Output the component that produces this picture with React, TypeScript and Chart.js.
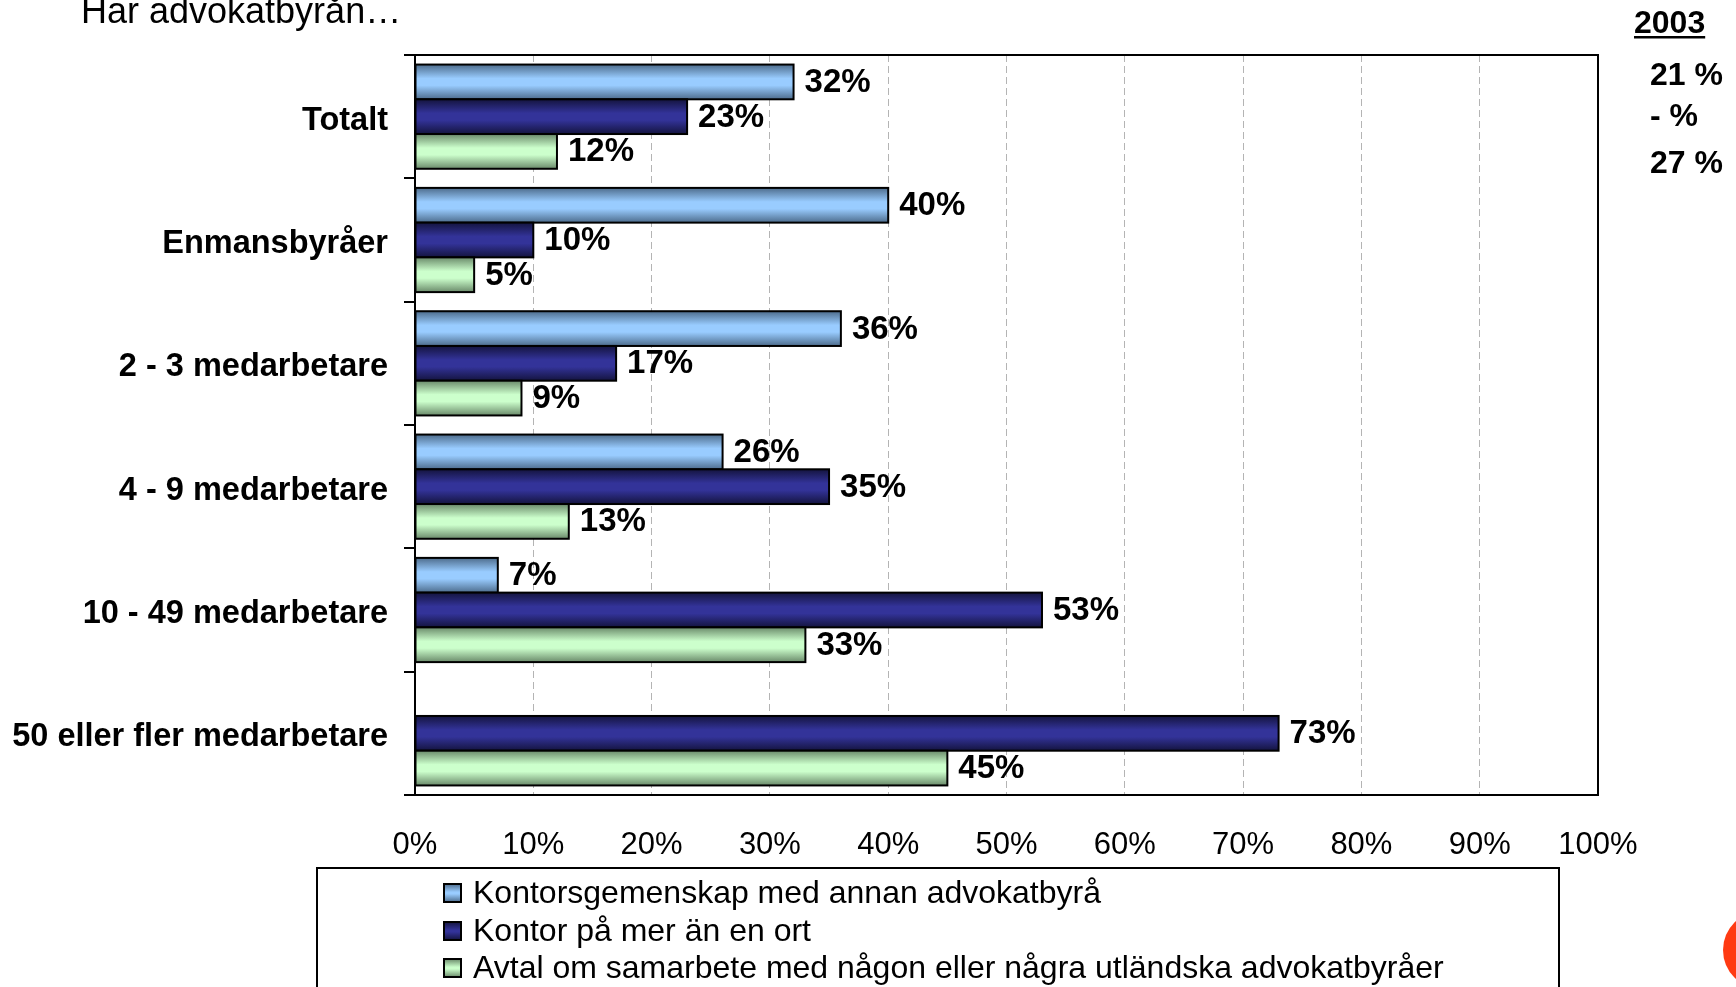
import React, { useEffect, useRef } from "react";
import { Chart, registerables } from "chart.js";

Chart.register(...registerables);

const FONT = "'Liberation Sans', Arial, sans-serif";

const title = "Har advokatbyrån…";
const categories = [
  "Totalt",
  "Enmansbyråer",
  "2 - 3 medarbetare",
  "4 - 9 medarbetare",
  "10 - 49 medarbetare",
  "50 eller fler medarbetare",
];
const seriesLabels = [
  "Kontorsgemenskap med annan advokatbyrå",
  "Kontor på mer än en ort",
  "Avtal om samarbete med någon eller några utländska advokatbyråer",
];
const kontorsgemenskap: (number | null)[] = [32, 40, 36, 26, 7, null];
const kontorFlerOrter: (number | null)[] = [23, 10, 17, 35, 53, 73];
const avtalUtland: (number | null)[] = [12, 5, 9, 13, 33, 45];
const xTickValues = [0, 10, 20, 30, 40, 50, 60, 70, 80, 90, 100];
const yearHeading = "2003";
const yearValues = ["21 %", "- %", "27 %"];

const baseColors = ["#99CCFF", "#333399", "#CCFFCC"];
const edgeColors = ["#4d6c8c", "#14143f", "#6a8a6a"];

export default function App() {
  const ref = useRef<HTMLCanvasElement | null>(null);

  useEffect(() => {
    document.body.style.margin = "0";
    const canvas = ref.current;
    if (!canvas) return;

    const barPlugin = {
      id: "customDraw",
      afterDatasetsDraw(chart: any) {
        const ctx = chart.ctx;
        const area = chart.chartArea;
        chart.data.datasets.forEach((ds: any, di: number) => {
          const meta = chart.getDatasetMeta(di);
          meta.data.forEach((el: any, i: number) => {
            const v = ds.data[i];
            if (v == null) return;
            const p = el.getProps(["x", "y", "base", "height"], true);
            const top = p.y - p.height / 2;
            const left = Math.min(p.base, p.x);
            const w = Math.abs(p.x - p.base);
            const g = ctx.createLinearGradient(0, top, 0, top + p.height);
            g.addColorStop(0, edgeColors[di]);
            g.addColorStop(0.4, baseColors[di]);
            g.addColorStop(0.6, baseColors[di]);
            g.addColorStop(1, edgeColors[di]);
            ctx.save();
            ctx.fillStyle = g;
            ctx.fillRect(left, top, w, p.height);
            ctx.lineWidth = 2;
            ctx.strokeStyle = "#000";
            ctx.strokeRect(left, top, w, p.height);
            ctx.fillStyle = "#000";
            ctx.font = `bold 33px ${FONT}`;
            ctx.textAlign = "left";
            ctx.textBaseline = "middle";
            ctx.fillText(`${v}%`, p.x + 11, p.y + 1);
            ctx.restore();
          });
        });
        // plot frame
        ctx.save();
        ctx.strokeStyle = "#000";
        ctx.lineWidth = 2;
        ctx.strokeRect(area.left, area.top, area.right - area.left, area.bottom - area.top);
        ctx.restore();
      },
      afterDraw(chart: any) {
        const ctx = chart.ctx;
        ctx.save();
        // title
        ctx.fillStyle = "#000";
        ctx.font = `36px ${FONT}`;
        ctx.textAlign = "left";
        ctx.textBaseline = "alphabetic";
        ctx.fillText(title, 81, 23);
        // 2003 column
        ctx.font = `bold 32px ${FONT}`;
        ctx.fillText(yearHeading, 1634, 33);
        const w = ctx.measureText(yearHeading).width;
        ctx.fillRect(1634, 36, w, 2.5);
        const ys = [76, 117, 164];
        ctx.textBaseline = "middle";
        yearValues.forEach((t, i) => ctx.fillText(t, 1650, ys[i]));
        // legend
        ctx.lineWidth = 2;
        ctx.strokeStyle = "#000";
        ctx.strokeRect(317, 868, 1559 - 317, 200);
        const rows = [893, 931, 968];
        ctx.font = `32px ${FONT}`;
        seriesLabels.forEach((lab, i) => {
          const y = rows[i];
          const g = ctx.createLinearGradient(0, y - 9, 0, y + 9);
          g.addColorStop(0, edgeColors[i]);
          g.addColorStop(0.45, baseColors[i]);
          g.addColorStop(0.55, baseColors[i]);
          g.addColorStop(1, edgeColors[i]);
          ctx.fillStyle = g;
          ctx.fillRect(444, y - 9, 17, 18);
          ctx.lineWidth = 2;
          ctx.strokeRect(444, y - 9, 17, 18);
          ctx.fillStyle = "#000";
          ctx.textBaseline = "middle";
          ctx.fillText(lab, 473, y + 1);
        });
        // logo fragment
        ctx.fillStyle = "#FF3A12";
        ctx.beginPath();
        ctx.arc(1762, 950, 39, 0, Math.PI * 2);
        ctx.fill();
        ctx.restore();
      },
    };

    const datasets = [kontorsgemenskap, kontorFlerOrter, avtalUtland].map((d, i) => ({
      label: seriesLabels[i],
      data: d,
      backgroundColor: baseColors[i],
      borderColor: "#000",
      borderWidth: 2,
      borderSkipped: false,
      categoryPercentage: 0.845,
      barPercentage: 1.0,
    }));

    const chart = new Chart(canvas, {
      type: "bar",
      data: { labels: categories, datasets },
      options: {
        indexAxis: "y",
        responsive: false,
        animation: false,
        layout: { padding: { top: 55, right: 138, left: 0, bottom: 0 } },
        plugins: {
          legend: { display: false },
          tooltip: { enabled: false },
          title: { display: false },
        },
        scales: {
          x: {
            type: "linear",
            position: "bottom",
            min: 0,
            max: 100,
            afterBuildTicks: (scale: any) => {
              scale.ticks = xTickValues.map((v) => ({ value: v }));
            },
            afterFit: (scale: any) => {
              scale.height = 192;
            },
            ticks: {
              stepSize: 10,
              autoSkip: false,
              maxRotation: 0,
              padding: 32,
              color: "#000",
              font: { family: FONT, size: 31 },
              callback: (v: any) => `${v}%`,
            },
            grid: {
              drawTicks: false,
              drawOnChartArea: true,
              color: (c: any) =>
                c.tick && (c.tick.value === 0 || c.tick.value === 100) ? "rgba(0,0,0,0)" : "#b4b4b4",
              lineWidth: 1,
            },
            border: { display: false, dash: [7, 4] },
          },
          y: {
            type: "category",
            position: "left",
            offset: true,
            afterFit: (scale: any) => {
              scale.width = 415;
            },
            ticks: {
              padding: 16,
              labelOffset: 4,
              color: "#000",
              font: { family: FONT, size: 32.5, weight: "bold" },
              autoSkip: false,
            },
            grid: {
              offset: true,
              drawOnChartArea: false,
              drawTicks: true,
              tickLength: 11,
              color: "#000",
              lineWidth: 2,
            },
            border: { display: false },
          },
        },
      },
      plugins: [barPlugin],
    } as any);

    return () => chart.destroy();
  }, []);

  return (
    <canvas
      ref={ref}
      width={1736}
      height={987}
      style={{ display: "block", width: 1736, height: 987 }}
    />
  );
}
